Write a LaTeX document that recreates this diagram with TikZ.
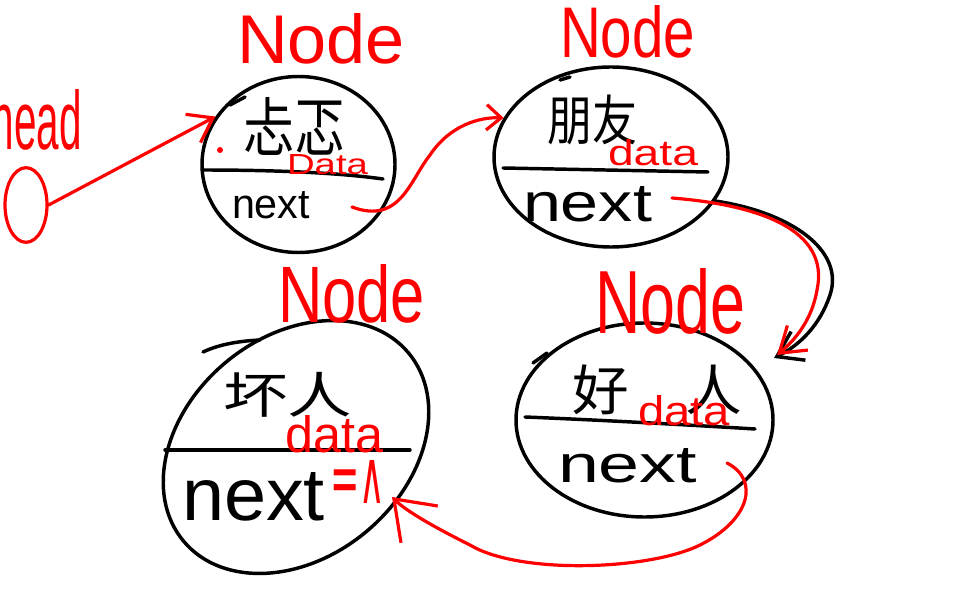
\documentclass[tikz,border=0pt]{standalone}
\usepackage{fontspec}
\setmainfont{Liberation Sans}
\newfontfamily\cjk{Noto Sans CJK SC}
\newfontfamily\djv{DejaVu Sans}
\usetikzlibrary{shapes.geometric,arrows.meta}
\newlength\px \setlength\px{0.75pt}
\newcommand\hw[3]{\resizebox{#1\px}{#2\px}{#3}}
\newcommand\hwc[3]{\resizebox*{#1\px}{#2\px}{\cjk #3}}
\begin{document}
\begin{tikzpicture}[x=0.75pt,y=-0.75pt,
  blk/.style={line width=2.6pt, black, line cap=round, line join=round},
  rd/.style={line width=2.4pt, red, line cap=round, line join=round},
  oval/.style={ellipse, draw, line width=2.6pt, inner sep=0pt},
  lbl/.style={inner sep=0pt, outer sep=0pt, anchor=base west},
  cj/.style={inner sep=0pt, outer sep=0pt, anchor=north west},
]
\useasboundingbox (0,0) rectangle (959,598);

% node outlines
\node[oval, red, line width=2.4pt, minimum width=31.5pt, minimum height=56pt] (head) at (26,205) {};
\node[oval, minimum width=144.75pt, minimum height=132pt] (n1) at (298.5,164.5) {};
\node[oval, minimum width=175.5pt, minimum height=135pt] (n2) at (611,157) {};
\node[oval, minimum width=192.75pt, minimum height=145.5pt] (n3) at (644.5,420) {};
\node[oval, rotate=40, minimum width=220pt, minimum height=165pt] (n4) at (296,447) {};

% dividers and extra strokes
\draw[blk] (202,170) .. controls (280,170) and (340,173) .. (383,179);
\draw[blk] (503,168) -- (708,172);
\draw[blk] (525,417) .. controls (600,420) and (690,425) .. (755,429);
\draw[blk] (165,450) -- (410,450);
\draw[blk] (203,352) .. controls (220,344) and (240,341) .. (260,340);
\draw[blk] (533,363) -- (547,353);
\draw[blk] (560,80) -- (570,77);
\draw[blk] (230,105) -- (245,97);
\fill[red] (220,150) circle (3);

% labels
\node[lbl, red] (headt) at (-8,150) {\hw{90}{60}{head}};
\node[lbl, red] (L1) at (237,64) {\hw{168}{50}{Node}};
\node[lbl, red] (L2) at (560,58) {\hw{135}{52}{Node}};
\node[lbl, red] (L3) at (595,333) {\hw{150}{65}{Node}};
\node[lbl, red] (L4) at (278,322) {\hw{147}{58}{Node}};

% data
\node[cj] (d1) at (243,97) {\hwc{102}{58}{忐忑}};
\node[cj] (d2) at (547,95) {\hwc{90}{50}{朋友}};
\node[cj] (d3) at (572,365) {\hwc{170}{50}{好\hspace{1em}人}};
\node[cj] (d4) at (223,372) {\hwc{129}{45}{坏人}};

\node[lbl, red] (t1) at (287,175) {\hw{81}{20}{Data}};
\node[lbl, red] (t2) at (608,166) {\hw{90}{26}{data}};
\node[lbl, red] (t3) at (638,425) {\hw{92}{30}{data}};
\node[lbl, red] (t4) at (285,452) {\hw{98}{37}{data}};

\node[lbl] (x1) at (232,219) {\hw{78}{27}{next}};
\node[lbl] (x2) at (523,222) {\hw{129}{35}{next}};
\node[lbl] (x3) at (558,482) {\hw{139}{34}{next}};
\node[lbl] (x4) at (182,520) {\hw{143}{48}{next}};
\node[lbl, red] (nul) at (330,503) {\hw{55}{43}{\djv =∧}};

% connectors
\coordinate (b0) at (352,207);
\coordinate (c0) at (672,198);
\coordinate (c1) at (777,355);
\coordinate (cb0) at (715,201);
\coordinate (cb1) at (774,358);
\coordinate (e0) at (727,463);
\coordinate (e1) at (392,497);

\draw[rd, -{Straight Barb[length=17pt,width=24pt]}] (head.east) -- (n1.150);
\draw[rd, -{Straight Barb[length=11pt,width=19pt]}] (b0) .. controls (400,225) and (410,180) .. (430,155) .. controls (450,125) and (480,117) .. (n2.160);
\draw[blk, -{Straight Barb[length=18pt,width=24pt]}] (cb0) .. controls (790,212) and (845,250) .. (830,295) .. controls (820,325) and (800,345) .. (cb1);
\draw[rd, -{Straight Barb[length=18pt,width=24pt]}] (c0) .. controls (760,205) and (830,230) .. (817,290) .. controls (812,320) and (795,340) .. (c1);
\draw[rd, -{Straight Barb[length=27pt,width=39pt]}] (e0) .. controls (760,480) and (750,520) .. (700,545) .. controls (650,570) and (520,575) .. (470,545) .. controls (430,525) and (405,510) .. (e1);
\end{tikzpicture}
\end{document}
